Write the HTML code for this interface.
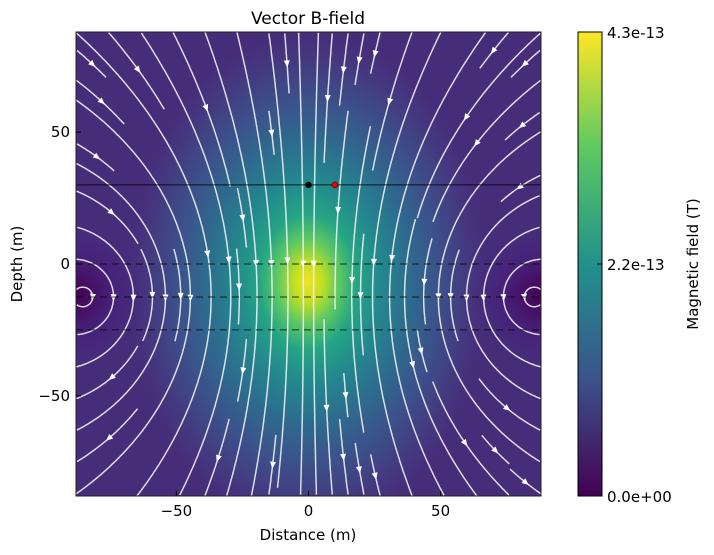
<!DOCTYPE html>
<html><head><meta charset="utf-8"><style>
html,body{margin:0;padding:0;background:#fff;width:714px;height:555px;overflow:hidden}
text{font-family:"DejaVu Sans","Liberation Sans",sans-serif}
</style></head><body>
<svg id="svg" width="714" height="555" xmlns="http://www.w3.org/2000/svg">
<defs>
<radialGradient id="bg" cx="308" cy="282" r="250" gradientUnits="userSpaceOnUse" gradientTransform="translate(308 282) scale(0.72 1.0) translate(-308 -282)">
<stop offset="0" stop-color="#f2e51d"/>
<stop offset="0.08" stop-color="#c2df23"/>
<stop offset="0.17" stop-color="#5ec962"/>
<stop offset="0.27" stop-color="#25a584"/>
<stop offset="0.4" stop-color="#23898e"/>
<stop offset="0.55" stop-color="#2c6e8e"/>
<stop offset="0.72" stop-color="#3b528b"/>
<stop offset="0.9" stop-color="#45377f"/>
<stop offset="1" stop-color="#472c7a"/>
</radialGradient>
<radialGradient id="wl" cx="76" cy="295" r="80" gradientUnits="userSpaceOnUse">
<stop offset="0" stop-color="#440154"/><stop offset="0.5" stop-color="#46207a" stop-opacity="0.8"/><stop offset="1" stop-color="#46307e" stop-opacity="0"/>
</radialGradient>
<radialGradient id="wr" cx="541" cy="295" r="80" gradientUnits="userSpaceOnUse">
<stop offset="0" stop-color="#440154"/><stop offset="0.5" stop-color="#46207a" stop-opacity="0.8"/><stop offset="1" stop-color="#46307e" stop-opacity="0"/>
</radialGradient>
<linearGradient id="cb" x1="0" y1="1" x2="0" y2="0">
<stop offset="0" stop-color="#440154"/><stop offset="0.25" stop-color="#3b528b"/><stop offset="0.5" stop-color="#21918c"/><stop offset="0.75" stop-color="#5ec962"/><stop offset="1" stop-color="#fde725"/>
</linearGradient>
<clipPath id="clip"><rect x="76" y="32" width="465" height="464"/></clipPath>
</defs>
<g clip-path="url(#clip)">
<rect x="76" y="32" width="465" height="464" fill="url(#bg)"/>
<rect x="76" y="32" width="465" height="464" fill="url(#wl)"/>
<rect x="76" y="32" width="465" height="464" fill="url(#wr)"/>
<g id="streams"></g>
<g id="overlay"></g>
</g>
<rect x="76" y="32" width="465" height="464" fill="none" stroke="#222" stroke-width="1"/>
<g id="axes"></g>
<text x="308" y="24" text-anchor="middle" font-size="17">Vector B-field</text>
<text x="308" y="540" text-anchor="middle" font-size="15">Distance (m)</text>
<text transform="translate(22 264) rotate(-90)" text-anchor="middle" font-size="15">Depth (m)</text>
<rect x="578" y="32" width="24" height="464" fill="url(#cb)" stroke="#000" stroke-width="1"/>
<line x1="597" y1="264" x2="602" y2="264" stroke="#000"/>
<text x="607" y="38" font-size="15">4.3e-13</text>
<text x="607" y="270" font-size="15">2.2e-13</text>
<text x="607" y="502" font-size="15">0.0e+00</text>
<text transform="translate(698 264) rotate(-90)" text-anchor="middle" font-size="15">Magnetic field (T)</text>
</svg>
<script>
const xTicks=[-50,0,50];
const yTicks=[50,0,-50];
const dashedDepths=[0,-12.5,-25];
const surveyDepth=[30];
const points=[[0,30,'#000'],[10,30,'#e00']];
const loopRadius=[85];
const loopDepth=[-12.5];
const NS='http://www.w3.org/2000/svg';
const X0=-88,X1=88,Y0=-88,Y1=88;
const px=v=>76+(v-X0)/(X1-X0)*465;
const py=v=>496-(v-Y0)/(Y1-Y0)*464;
function mk(t,a,p){const e=document.createElementNS(NS,t);for(const k in a)e.setAttribute(k,a[k]);p.appendChild(e);return e;}
const axes=document.getElementById('axes');
xTicks.forEach(t=>{
 const l=mk('line',{x1:px(t),x2:px(t),y1:496,y2:491,stroke:'#000'},axes);
 
 
 const s=mk('text',{x:px(t),y:516,'text-anchor':'middle','font-size':15},axes);
 
 
 s.textContent=t<0?'\u2212'+(-t):String(t);
});
yTicks.forEach(t=>{
 const l=mk('line',{x1:76,x2:81,y1:py(t),y2:py(t),stroke:'#000'},axes);
 
 
 const s=mk('text',{x:70,y:py(t)+5,'text-anchor':'end','font-size':15},axes);
 
 
 s.textContent=t<0?'\u2212'+(-t):String(t);
});
const R=loopRadius[0],zc=loopDepth[0],N=72;
function B(x,z){let bx=0,bz=0;for(let i=0;i<N;i++){const f=(i+0.5)/N*2*Math.PI;const lx=R*Math.cos(f),ly=R*Math.sin(f);
 const dlx=-Math.sin(f),dly=Math.cos(f);const rx=x-lx,ry=-ly,rz=z-zc;const r3=Math.pow(rx*rx+ry*ry+rz*rz,1.5)+1e-9;
 bx+=(dly*rz)/r3;bz+=(dlx*ry-dly*rx)/r3;}return [-bx,-bz];}
const G=30,cw=(X1-X0)/G;const occ=new Int32Array(G*G).fill(-1);
const cell=(x,z)=>{const i=Math.floor((x-X0)/cw),j=Math.floor((z-Y0)/cw);if(i<0||j<0||i>=G||j>=G)return -1;return j*G+i;};
const g=document.getElementById('streams');
let id=0;
function trace(x,z,dir,me,cells){const pts=[];let c=cell(x,z);const h=0.6;
 for(let s=0;s<1500;s++){const b=B(x,z);const m=Math.hypot(b[0],b[1])||1;
  const k1=[b[0]/m,b[1]/m];const b2=B(x+dir*h*k1[0]/2,z+dir*h*k1[1]/2);const m2=Math.hypot(b2[0],b2[1])||1;
  x+=dir*h*b2[0]/m2;z+=dir*h*b2[1]/m2;
  if(x<X0||x>X1||z<Y0||z>Y1)break;
  const nc=cell(x,z);if(nc!==c){if(occ[nc]!==-1)break;occ[nc]=me;cells.push(nc);c=nc;}
  pts.push([x,z]);}
 return pts;}
const seeds=[];
for(let r=0;r<G/2;r++){for(let i=r;i<G-r;i++){seeds.push([i,r],[i,G-1-r]);}for(let j=r+1;j<G-1-r;j++){seeds.push([r,j],[G-1-r,j]);}}
seeds.forEach(([i,j])=>{const k=j*G+i;if(occ[k]!==-1)return;const me=id++;occ[k]=me;const cells=[k];
 const x=X0+(i+0.5)*cw,z=Y0+(j+0.5)*cw;
 const bw=trace(x,z,-1,me,cells).reverse();const fw=trace(x,z,1,me,cells);
 const pts=bw.concat([[x,z]],fw);
 if(pts.length<25){cells.forEach(c=>occ[c]=-1);return;}
 const d=pts.map((p,n)=>(n?'L':'M')+px(p[0]).toFixed(1)+' '+py(p[1]).toFixed(1)).join('');
 const path=mk('path',{d:d,fill:'none',stroke:'#eee','stroke-width':1.5,'stroke-opacity':0.9},g);
 
 
 const m=Math.floor(pts.length/2);const a=pts[m],b=pts[Math.min(m+2,pts.length-1)];
 const ax=px(a[0]),ay=py(a[1]);const ang=Math.atan2(py(b[1])-ay,px(b[0])-ax)*180/Math.PI;
 const arr=mk('path',{d:'M4 0 L-3 -3 L-3 3 Z',fill:'#fff',transform:`translate(${ax.toFixed(1)} ${ay.toFixed(1)}) rotate(${ang.toFixed(1)})`},g);
 
 
});
const ov=document.getElementById('overlay');
dashedDepths.forEach(v=>{const l=mk('line',{x1:76,x2:541,y1:py(v),y2:py(v),stroke:'#000','stroke-dasharray':'7 5','stroke-opacity':0.75},ov);
 
 });
surveyDepth.forEach(v=>{const l=mk('line',{x1:76,x2:541,y1:py(v),y2:py(v),stroke:'#000','stroke-opacity':0.8},ov);
 
 });
points.forEach(p=>{const c=mk('circle',{cx:px(p[0]),cy:py(p[1]),r:3,fill:p[2],stroke:'#000','stroke-width':0.5},ov);
 
 });
</script>
</body></html>
